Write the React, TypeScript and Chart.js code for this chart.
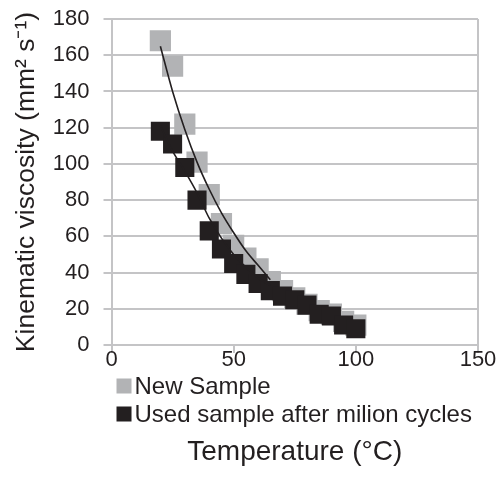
import React, { useEffect, useRef } from "react";
import { Chart, registerables } from "chart.js";

Chart.register(...registerables);

const temperatureC = [20, 25, 30, 35, 40, 45, 50, 55, 60, 65, 70, 75, 80, 85, 90, 95, 100];
const newSampleViscosity = [168, 154, 122, 101, 83, 67, 55, 48, 42, 35, 30, 26, 22.5, 19, 17, 13, 11];
const usedSampleViscosity = [118, 111, 98, 80, 63, 53, 45, 39, 34, 30, 27, 25, 22, 17, 16, 11, 9];
const trendTemperatureC = [20, 25, 30, 35, 40, 45, 50, 55, 60, 65];
const newSampleTrend = [165, 140, 119, 101, 86, 73, 62, 52, 44, 36];
const usedSampleTrend = [121, 107, 96, 84, 70, 59, 50, 43, 37, 33];
const xTickValues = [0, 50, 100, 150];
const seriesLabels = ["New Sample", "Used sample after milion cycles"];
const xTitle = "Temperature (°C)";
const yTitle = "Kinematic viscosity (mm² s⁻¹)";

const FONT = "'Liberation Sans', Arial, sans-serif";
const TEXT = "#231f20";
const GRAY = "#b2b3b5";
const BLACK = "#231f20";
const GRID = "#c4c4c6";

const customLegend = {
  id: "customLegend",
  afterDraw(chart: any) {
    const { ctx, chartArea } = chart;
    const rows = [0, 1];
    const offsets = [41, 69];
    ctx.save();
    ctx.font = `24px ${FONT}`;
    ctx.textBaseline = "middle";
    ctx.textAlign = "left";
    rows.forEach((di, i) => {
      const ds = chart.data.datasets[di];
      const cy = chartArea.bottom + offsets[i];
      const bx = chartArea.left + 5;
      const size = 15;
      ctx.fillStyle = ds.backgroundColor;
      ctx.fillRect(bx, cy - size / 2, size, size);
      ctx.fillStyle = TEXT;
      ctx.fillText(ds.label, bx + size + 3, cy + 1);
    });
    ctx.restore();
  },
};

export default function App() {
  const canvasRef = useRef<HTMLCanvasElement | null>(null);

  useEffect(() => {
    const canvas = canvasRef.current;
    if (!canvas) return;
    const chart = new Chart(canvas, {
      type: "scatter",
      data: {
        datasets: [
          {
            label: seriesLabels[0],
            data: temperatureC.map((x, i) => ({ x, y: newSampleViscosity[i] })),
            backgroundColor: GRAY,
            borderColor: GRAY,
            borderWidth: 0,
            pointStyle: "rect",
            pointRadius: 15,
            pointHoverRadius: 15,
            order: 3,
          },
          {
            label: seriesLabels[1],
            data: temperatureC.map((x, i) => ({ x, y: usedSampleViscosity[i] })),
            backgroundColor: BLACK,
            borderColor: BLACK,
            borderWidth: 0,
            pointStyle: "rect",
            pointRadius: 13.5,
            pointHoverRadius: 13.5,
            order: 2,
          },
          {
            label: "trend new",
            type: "line",
            data: trendTemperatureC.map((x, i) => ({ x, y: newSampleTrend[i] })),
            borderColor: BLACK,
            borderWidth: 1.6,
            pointRadius: 0,
            showLine: true,
            fill: false,
            cubicInterpolationMode: "monotone",
            order: 1,
          },
          {
            label: "trend used",
            type: "line",
            data: trendTemperatureC.map((x, i) => ({ x, y: usedSampleTrend[i] })),
            borderColor: BLACK,
            borderWidth: 1.6,
            pointRadius: 0,
            showLine: true,
            fill: false,
            cubicInterpolationMode: "monotone",
            order: 0,
          },
        ] as any,
      },
      options: {
        animation: false,
        responsive: true,
        maintainAspectRatio: false,
        layout: { autoPadding: false, padding: { top: 19, right: 22, left: 0, bottom: 0 } },
        plugins: {
          legend: { display: false },
          tooltip: { enabled: false },
          title: {
            display: true,
            position: "bottom",
            fullSize: false,
            text: xTitle,
            color: TEXT,
            font: { family: FONT, size: 28, weight: "normal" },
            padding: { top: 68, bottom: 22 },
          },
        },
        scales: {
          x: {
            type: "linear",
            min: 0,
            max: 150,
            afterBuildTicks: (axis: any) => {
              axis.ticks = xTickValues.map((v) => ({ value: v }));
            },
            ticks: {
              color: TEXT,
              font: { family: FONT, size: 22 },
              padding: -6,
              maxRotation: 0,
            },
            grid: {
              color: (c: any) => (c.tick && c.tick.value === 150 ? GRID : "rgba(0,0,0,0)"),
              tickColor: GRID,
              tickLength: 8,
              lineWidth: 2,
            },
            border: { color: GRID, width: 2 },
          },
          y: {
            type: "linear",
            min: 0,
            max: 180,
            afterFit: (axis: any) => {
              axis.paddingTop = 0;
              axis.paddingBottom = 0;
            },
            ticks: {
              stepSize: 20,
              color: TEXT,
              font: { family: FONT, size: 22 },
              padding: 14,
            },
            grid: { color: GRID, tickColor: GRID, tickLength: 8, lineWidth: 2 },
            border: { color: GRID, width: 2 },
            title: {
              display: true,
              text: yTitle,
              color: TEXT,
              font: { family: FONT, size: 26.5, weight: "normal" },
              padding: { top: 11, bottom: -4 },
            },
          },
        },
      },
      plugins: [customLegend],
    } as any);
    return () => chart.destroy();
  }, []);

  return (
    <div style={{ position: "absolute", left: 0, top: 0, width: 500, height: 491 }}>
      <canvas ref={canvasRef} />
    </div>
  );
}
